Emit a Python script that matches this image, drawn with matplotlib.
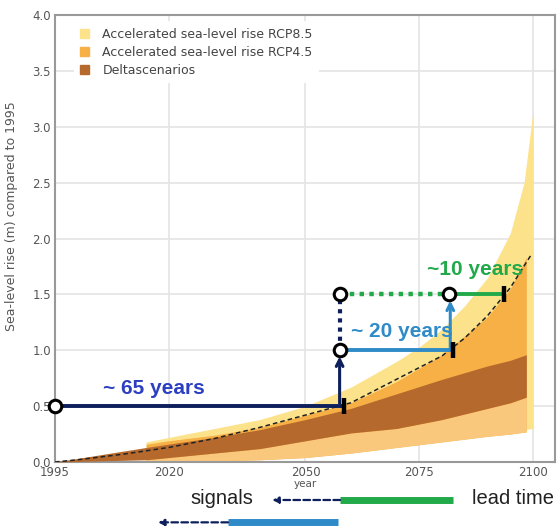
"""Sea-level rise scenarios with signal / lead-time annotations."""
import matplotlib
matplotlib.use("Agg")
import matplotlib.pyplot as plt
from matplotlib.patches import Patch

# projection bands (m, relative to 1995)
R85_YEARS = [2015, 2020, 2030, 2040, 2050, 2060, 2070, 2075, 2080, 2085, 2090, 2095, 2098, 2100]
R85_HIGH = [0.18, 0.22, 0.30, 0.38, 0.50, 0.67, 0.90, 1.03, 1.19, 1.40, 1.65, 2.05, 2.50, 3.15]
R85_LOW = [0.02, 0.03, 0.05, 0.07, 0.09, 0.12, 0.15, 0.17, 0.19, 0.21, 0.24, 0.27, 0.29, 0.30]

R45_YEARS = [2015, 2020, 2030, 2040, 2050, 2060, 2070, 2080, 2090, 2095, 2098.5]
R45_HIGH = [0.16, 0.19, 0.24, 0.31, 0.42, 0.53, 0.72, 0.96, 1.30, 1.55, 1.83]
R45_LOW = [0.00, 0.00, 0.01, 0.02, 0.04, 0.08, 0.13, 0.18, 0.23, 0.25, 0.27]

DELTA_YEARS = [1995] + R45_YEARS
DELTA_HIGH = [0.0, 0.13, 0.16, 0.22, 0.29, 0.38, 0.48, 0.61, 0.74, 0.86, 0.91, 0.96]
DELTA_LOW = [0.0, 0.02, 0.04, 0.08, 0.12, 0.19, 0.26, 0.30, 0.38, 0.48, 0.53, 0.58]

CURVE_YEARS = [1995, 2000, 2010, 2020, 2030, 2040, 2050, 2060, 2070, 2080, 2085, 2090, 2095, 2099.5]
CURVE = [0.0, 0.02, 0.07, 0.13, 0.21, 0.31, 0.42, 0.53, 0.74, 0.95, 1.11, 1.31, 1.56, 1.85]

# adaptation steps: threshold, start year, signal year on the curve
THRESHOLDS = [0.5, 1.0, 1.5]
START_YEARS = [1995, 2057.5, 2081.5]
SIGNAL_YEARS = [2058.5, 2082.5, 2093.5]
LEAD_LABELS = ["~ 65 years", "~ 20 years", "~10 years"]

# schematic below the axis: (dashed arrow tip, bar start, bar end)
SCHEME_GREEN = [2042.7, 2057.6, 2082.3]
SCHEME_BLUE = [2017.6, 2033.0, 2057.2]

C85 = "#fde28c"
C45 = "#f6b045"
C45_LIGHT = "#fac87c"
CDELTA = "#b5692d"
NAVY = "#0d1f5c"
BLUE = "#2e8bc8"
GREEN = "#22a94a"
ROYAL = "#2b3fc0"

fig = plt.figure(figsize=(5.6, 5.26), dpi=100)
ax = fig.add_axes([55 / 560, 64 / 526, 500 / 560, 447 / 526])

ax.fill_between(R85_YEARS, R85_LOW, R85_HIGH, color=C85, lw=0, zorder=1)
ax.fill_between(R45_YEARS, R45_LOW, R45_HIGH, color=C45, lw=0, zorder=2)
ax.fill_between(R45_YEARS, R45_LOW, DELTA_LOW[1:], color=C45_LIGHT, lw=0, zorder=2)
ax.fill_between(DELTA_YEARS, DELTA_LOW, DELTA_HIGH, color=CDELTA, lw=0, zorder=3)
ax.plot(CURVE_YEARS, CURVE, color="#222222", lw=1.1, ls=(0, (3, 2)), zorder=4)

# 0.5 m step
ax.plot([START_YEARS[0], SIGNAL_YEARS[0]], [THRESHOLDS[0]] * 2, color=NAVY, lw=2.8, zorder=5,
        solid_capstyle="butt")
ax.annotate("", xy=(START_YEARS[1], THRESHOLDS[1] - 0.03), xytext=(START_YEARS[1], THRESHOLDS[0]),
            arrowprops=dict(arrowstyle="->", color=NAVY, lw=2.2, mutation_scale=12), zorder=5)
ax.plot([START_YEARS[1]] * 2, [THRESHOLDS[1], THRESHOLDS[2]], color=NAVY, lw=3,
        ls=(0, (1, 1.2)), zorder=5)

# 1.0 m step
ax.plot([START_YEARS[1], SIGNAL_YEARS[1]], [THRESHOLDS[1]] * 2, color=BLUE, lw=2.8, zorder=5,
        solid_capstyle="butt")
ax.annotate("", xy=(START_YEARS[2] + 0.3, THRESHOLDS[2] - 0.03),
            xytext=(START_YEARS[2] + 0.3, THRESHOLDS[1]),
            arrowprops=dict(arrowstyle="->", color=BLUE, lw=2.2, mutation_scale=12), zorder=5)

# 1.5 m step
ax.plot([START_YEARS[1], START_YEARS[2]], [THRESHOLDS[2]] * 2, color=GREEN, lw=3.2,
        ls=(0, (1, 1.2)), zorder=5)
ax.plot([START_YEARS[2], SIGNAL_YEARS[2]], [THRESHOLDS[2]] * 2, color=GREEN, lw=2.8, zorder=5,
        solid_capstyle="butt")

ax.plot(SIGNAL_YEARS, THRESHOLDS, ls="none", marker="|", ms=11, mew=3.2, color="black", zorder=6)
ax.plot([START_YEARS[0], START_YEARS[1], START_YEARS[1], START_YEARS[2]],
        [THRESHOLDS[0], THRESHOLDS[1], THRESHOLDS[2], THRESHOLDS[2]],
        ls="none", marker="o", ms=9, mew=2.2, mfc="white", mec="black", zorder=7, clip_on=False)

txt = dict(fontsize=15, fontweight="bold", family="Liberation Sans", ha="center", va="center",
           zorder=8)
ax.text(2016.7, 0.66, LEAD_LABELS[0], color=ROYAL, **txt)
ax.text(2071.2, 1.17, LEAD_LABELS[1], color=BLUE, **txt)
ax.text(2087.3, 1.72, LEAD_LABELS[2], color=GREEN, **txt)

# schematic legend under the chart
for (tip, start, end), y, col in [(SCHEME_GREEN, -0.34, GREEN), (SCHEME_BLUE, -0.54, BLUE)]:
    ax.plot([start, end], [y, y], color=col, lw=5, solid_capstyle="butt", clip_on=False)
    ax.annotate("", xy=(tip, y), xytext=(start, y), annotation_clip=False,
                arrowprops=dict(arrowstyle="-|>", color=NAVY, lw=1.6, ls=(0, (3, 1.5)),
                                mutation_scale=9, shrinkA=0, shrinkB=0))
ax.text(2038.5, -0.33, "signals", fontsize=14.5, family="Liberation Sans", color="#222222",
        ha="right", va="center")
ax.text(2086.6, -0.33, "lead time", fontsize=14.5, family="Liberation Sans", color="#222222",
        ha="left", va="center")

ax.set_xlim(1995, 2104.8)
ax.set_ylim(0, 4.0)
ax.set_xticks([1995, 2020, 2050, 2075, 2100])
ax.set_yticks([0, 0.5, 1.0, 1.5, 2.0, 2.5, 3.0, 3.5, 4.0])
ax.set_yticklabels([f"{v:.1f}" for v in ax.get_yticks()])
ax.tick_params(length=0, labelsize=8.5, labelcolor="#555555", pad=3)
ax.grid(color="#e4e4e4", lw=1.2, zorder=0)
ax.set_axisbelow(True)
for s in ax.spines.values():
    s.set_color("#999999")
    s.set_linewidth(1.5)
ax.set_xlabel("year", fontsize=7.5, color="#555555", labelpad=0)
ax.set_ylabel("Sea-level rise (m) compared to 1995", fontsize=9, color="#555555")
ax.yaxis.set_label_coords(-0.074, 0.55)

handles = [Patch(color=C85), Patch(color=C45), Patch(color=CDELTA)]
labels = ["Accelerated sea-level rise RCP8.5", "Accelerated sea-level rise RCP4.5", "Deltascenarios"]
leg = ax.legend(handles, labels, loc="upper left", bbox_to_anchor=(0.025, 1.0), fontsize=9,
                handlelength=0.7, handleheight=0.7, handletextpad=1.1, labelspacing=0.4,
                borderpad=0.5, frameon=True, framealpha=1, edgecolor="none", facecolor="white")
for t in leg.get_texts():
    t.set_color("#444444")

fig.savefig("out.png", dpi=100)
